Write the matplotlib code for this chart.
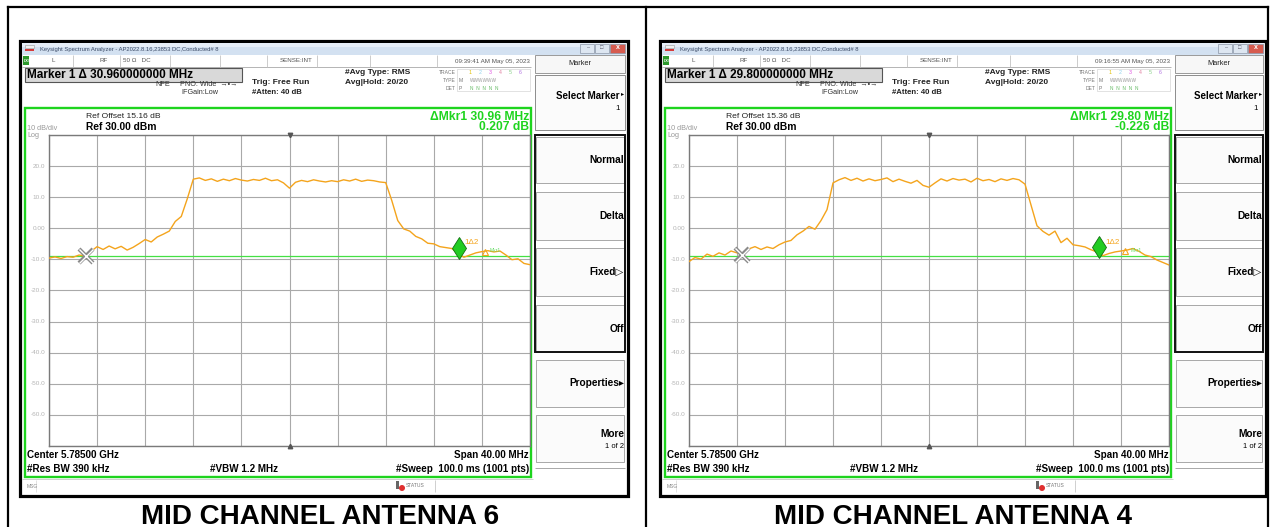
import numpy as np
import matplotlib
matplotlib.use("Agg")
import matplotlib.pyplot as plt
from matplotlib.patches import Rectangle, Circle
from matplotlib import transforms

plt.rcParams['font.family'] = ['Liberation Sans', 'DejaVu Sans']

# ---------------- measurement settings ----------------
center_ghz = 5.785
span_mhz = 40.0
ref_level_dbm = 30.0
db_per_div = 10.0
display_line_dbm = -8.8

# trace levels (dBm), sampled every 0.5 MHz across the 40 MHz span
ant6_levels = [
    -9.6, -9.2, -9.7, -9.1, -9.3, -8.6, -8.9, -7.4, -5.9, -6.8,
    -5.7, -6.6, -5.8, -7.0, -6.1, -4.9, -3.6, -4.4, -2.8, -1.9,
    -0.9, 2.2, 3.8, 9.5, 15.8, 16.2, 15.4, 15.9, 15.1, 15.8,
    15.3, 16.0, 15.5, 15.2, 15.7, 15.4, 16.1, 15.3, 15.6, 14.6,
    12.9, 14.8, 15.4, 15.0, 15.6, 15.2, 14.9, 15.3, 15.0, 15.6,
    15.2, 15.8, 15.1, 15.5, 15.3, 14.9, 14.7, 9.0, 2.5, -0.2,
    -0.9, -2.6, -3.4, -4.8, -5.0, -5.9, -6.2, -6.5, -8.0, -9.3,
    -8.6, -7.9, -7.5, -7.2, -7.6, -7.3, -8.6, -10.1, -9.8, -11.3,
    -11.7,
]
ant4_levels = [
    -10.7, -9.4, -9.9, -8.3, -9.0, -7.9, -8.6, -7.3, -7.9, -8.4,
    -6.6, -5.9, -6.8, -6.0, -6.5, -5.3, -4.4, -3.9, -2.1, -0.9,
    0.6, -0.3, 2.5, 6.0, 14.6, 15.6, 16.3, 15.4, 16.1, 15.2,
    15.9, 15.3, 15.7, 16.2, 15.0, 15.8, 15.1, 14.5, 15.4, 13.8,
    13.2, 14.6, 15.9, 15.2, 16.0, 15.5, 15.8, 14.9, 16.1, 15.3,
    15.7, 15.0, 15.9, 15.4, 16.0, 15.6, 14.2, 7.5, 0.8, -1.0,
    -2.2, -0.9, -4.6, -3.2, -5.3, -5.6, -6.0, -6.9, -7.6, -8.8,
    -8.1, -7.6, -7.3, -7.0, -6.5, -7.4, -8.6, -9.1, -10.2, -11.0,
    -11.8,
]

# marker 1 (offset MHz, dBm) and delta readout (MHz, dB)
ant6_marker1 = (-16.90, -9.00)
ant6_delta = (30.96, 0.207)
ant4_marker1 = (-15.60, -8.50)
ant4_delta = (29.80, -0.226)

ref_offsets_db = [15.16, 15.36]
timestamps = ["09:39:41 AM May 05, 2023", "09:16:55 AM May 05, 2023"]
captions = ["MID CHANNEL ANTENNA 6", "MID CHANNEL ANTENNA 4"]
ytick_values = [20, 10, 0, -10, -20, -30, -40, -50, -60]
ytick_labels = ["20.0", "10.0", "0.00", "-10.0", "-20.0", "-30.0", "-40.0", "-50.0", "-60.0"]
softkeys = ["Normal", "Delta", "Fixed\u25B7", "Off", "Properties\u25B8"]

# ---------------- figure ----------------
W, H, DPI = 1273, 527, 100
fig = plt.figure(figsize=(W / DPI, H / DPI), dpi=DPI)
fig.patch.set_facecolor('white')
bg = fig.add_axes([0, 0, 1, 1])
bg.set_xlim(0, W)
bg.set_ylim(H, 0)
bg.axis('off')

GREEN = '#1ed41e'
TRACE = '#f4a41c'


def txt(x, y, s, size, color='black', weight='normal', ha='left', va='center', **kw):
    bg.text(x, y, s, fontsize=size, color=color, fontweight=weight,
            ha=ha, va=va, zorder=5, **kw)


def rect(x, y, w, h, fc='none', ec='none', lw=0.8, z=2):
    bg.add_patch(Rectangle((x, y), w, h, facecolor=fc, edgecolor=ec, lw=lw, zorder=z))


def hline(y, x0, x1, color='#b8b8b8', lw=0.6, z=3):
    bg.plot([x0, x1], [y, y], color=color, lw=lw, zorder=z, solid_capstyle='butt')


def vline(x, y0, y1, color='#b8b8b8', lw=0.6, z=3):
    bg.plot([x, x], [y0, y1], color=color, lw=lw, zorder=z, solid_capstyle='butt')


def draw_window(dx, right, marker1, delta, ref_offset, stamp):
    L = 20 + dx
    R = right
    # window frame
    rect(L, 41, R - L, 455, fc='white', ec='black', lw=2.3, z=1)
    # title bar
    rect(L + 2, 43, R - L - 4, 12, fc='#d3e1f1', z=2)
    rect(L + 2, 43, R - L - 4, 4, fc='#e6eef8', z=2)
    rect(L + 5, 45, 9, 3, fc='#f2f2f2', ec='#999999', lw=0.4, z=3)
    rect(L + 5, 48.5, 9, 2.5, fc='#d63a3a', z=3)
    txt(L + 20, 49.5, "Keysight Spectrum Analyzer - AP2022.8.16,23853 DC,Conducted# 8",
        4.2, color='#3b4a66')
    for bx, bw, c in [(R - 48, 14, '#dde6f1'), (R - 33, 14, '#dde6f1'), (R - 18, 15, '#d65b4f')]:
        rect(bx, 43.5, bw, 9, fc=c, ec='#8a95a5', lw=0.5, z=3)
    txt(R - 41, 47.5, "\u2013", 4, color='#556')
    txt(R - 26, 47.5, "\u25A1", 4, color='#556', ha='center')
    txt(R - 10.5, 47.5, "x", 5, color='white', ha='center', weight='bold')

    # instrument status row
    rect(L + 3, 56, 6, 9, fc='#2e9a2e', z=3)
    txt(L + 4, 60.5, "LXI", 2.6, color='white', weight='bold')
    hline(67, L + 2, 531 + dx, color='#a8a8a8')
    for sx in [73, 120, 170, 220, 267, 317, 370, 437]:
        vline(sx + dx, 55, 67, color='#c4c4c4')
    txt(51 + dx, 61, "L", 4.5, color='#555555')
    txt(100 + dx, 61, "RF", 4.5, color='#555555')
    txt(123 + dx, 61, "50 \u03A9   DC", 4.5, color='#555555')
    txt(280 + dx, 61, "SENSE:INT", 4.5, color='#555555')
    txt(530 + dx, 61, stamp, 4.5, color='#555555', ha='right')

    # marker readout box and acquisition settings
    rect(25 + dx, 68, 217, 14, fc='#d9d9d9', ec='#555555', lw=0.8, z=3)
    txt(27 + dx, 75.5, "Marker 1 \u0394 %.9f MHz" % delta[0], 8.5, weight='bold')
    txt(155 + dx, 84.5, "NFE", 5.2, color='#333333')
    txt(180 + dx, 84.5, "PNO: Wide  \u2192\u2022\u2192", 5.2, color='#333333')
    txt(181 + dx, 92.5, "IFGain:Low", 5.2, color='#333333')
    txt(252 + dx, 83, "Trig: Free Run", 6.0, weight='bold', color='#222222')
    txt(252 + dx, 92.5, "#Atten: 40 dB", 5.6, weight='bold', color='#222222')
    txt(345 + dx, 72, "#Avg Type: RMS", 6.0, weight='bold', color='#222222')
    txt(345 + dx, 82, "Avg|Hold: 20/20", 6.0, weight='bold', color='#222222')
    txt(456 + dx, 73, "TRACE", 3.6, color='#777777', ha='right')
    txt(456 + dx, 80.5, "TYPE", 3.6, color='#777777', ha='right')
    txt(456 + dx, 88, "DET", 3.6, color='#777777', ha='right')
    rect(457 + dx, 69, 73, 22, fc='none', ec='#cccccc', lw=0.4, z=3)
    dig_cols = ['#e0c000', '#8fd3ee', '#e055e0', '#e07fa0', '#8ad08a', '#b070e0']
    for i, c in enumerate(dig_cols):
        txt(470 + dx + i * 10, 73, str(i + 1), 3.8, color=c, ha='center')
    txt(459 + dx, 80.5, "M", 3.6, color='#777777')
    txt(470 + dx, 80.5, "WWWWWW", 3.4, color='#999999')
    txt(459 + dx, 88, "P", 3.6, color='#777777')
    txt(470 + dx, 88, "N  N  N  N  N", 3.4, color='#66bb66')

    # green display frame
    rect(25 + dx, 108, 506, 369, fc='none', ec=GREEN, lw=1.7, z=4)
    txt(86 + dx, 117, "Ref Offset %.2f dB" % ref_offset, 6.1, color='#222222')
    txt(86 + dx, 127.5, "Ref 30.00 dBm", 7.4, weight='bold')
    txt(27 + dx, 128, "10 dB/div", 5.2, color='#999999')
    txt(27 + dx, 135.5, "Log", 5.2, color='#999999')
    txt(529 + dx, 117, "\u0394Mkr1 %.2f MHz" % delta[0], 8.7, color=GREEN, weight='bold', ha='right')
    txt(529 + dx, 127.5, "%.3f dB" % delta[1], 8.7, color=GREEN, weight='bold', ha='right')

    # sweep settings under the graticule
    txt(27 + dx, 454.5, "Center %.5f GHz" % center_ghz, 7.1, weight='bold')
    txt(529 + dx, 454.5, "Span %.2f MHz" % span_mhz, 7.1, weight='bold', ha='right')
    txt(27 + dx, 468.5, "#Res BW 390 kHz", 7.1, weight='bold')
    txt(210 + dx, 468.5, "#VBW 1.2 MHz", 7.1, weight='bold')
    txt(529 + dx, 468.5, "#Sweep  100.0 ms (1001 pts)", 7.1, weight='bold', ha='right')

    # message / status bar
    hline(479, L + 2, 533 + dx, color='#c8c8c8')
    txt(27 + dx, 486, "MSG", 3.6, color='#888888')
    vline(36 + dx, 480, 492, color='#dddddd')
    rect(396 + dx, 481, 3, 8, fc='#666666', z=3)
    bg.add_patch(Circle((402 + dx, 488), 3, facecolor='#e03030', edgecolor='none', zorder=4))
    txt(406 + dx, 485.5, "STATUS", 3.6, color='#777777')
    vline(435 + dx, 480, 492, color='#c8c8c8')

    # softkey panel
    px0, px1 = 535 + dx, R - 3
    pw = px1 - px0
    rect(px0, 55, pw, 18, fc='#f7f7f7', ec='#9a9a9a', lw=0.7, z=3)
    txt((px0 + px1) / 2, 63.5, "Marker", 5.3, color='#222222', ha='center')
    rect(px0, 75, pw, 55, fc='#fbfbfb', ec='#8c8c8c', lw=0.7, z=3)
    txt(px1 - 6, 96, "Select Marker", 7.0, weight='bold', ha='right')
    txt(px1 - 1, 94, "\u25B8", 4.5, ha='right')
    txt(px1 - 5, 109, "1", 5.6, ha='right')
    boxes = [(137, 183), (192, 240), (248, 296), (305, 352), (360, 407)]
    for (y0, y1), name in zip(boxes, softkeys):
        rect(px0 + 1, y0, pw - 2, y1 - y0, fc='#fbfbfb', ec='#9a9a9a', lw=0.6, z=3)
        txt(px1 - 1, (y0 + y1) / 2, name, 7.3, weight='bold', ha='right')
    rect(px0, 135, pw, 217, fc='none', ec='#111111', lw=1.4, z=4)
    rect(px0 + 1, 415, pw - 2, 47, fc='#fbfbfb', ec='#9a9a9a', lw=0.6, z=3)
    txt(px1 - 1, 434, "More", 7.3, weight='bold', ha='right')
    txt(px1 - 1, 446, "1 of 2", 5.4, ha='right')
    hline(468, px0, px1, color='#9a9a9a')


def draw_trace(x0, x1, levels, marker1, delta):
    y0, y1 = 135, 446
    ax = fig.add_axes([x0 / W, 1 - y1 / H, (x1 - x0) / W, (y1 - y0) / H])
    ax.set_facecolor('white')
    f = np.linspace(-span_mhz / 2, span_mhz / 2, len(levels))
    ax.set_xlim(-span_mhz / 2, span_mhz / 2)
    ax.set_ylim(ref_level_dbm - 10 * db_per_div, ref_level_dbm)
    ax.set_xticks(np.linspace(-span_mhz / 2, span_mhz / 2, 11))
    ax.set_yticks(np.arange(ref_level_dbm - 10 * db_per_div, ref_level_dbm + 1, db_per_div))
    ax.grid(True, color='#a9a9a9', lw=0.8)
    ax.tick_params(length=0, labelbottom=False, labelleft=False)
    for s in ax.spines.values():
        s.set_color('#7a7a7a')
        s.set_linewidth(1.0)

    lab_tr = transforms.offset_copy(ax.get_yaxis_transform(), fig=fig, x=-4, y=0, units='dots')
    for v, lab in zip(ytick_values, ytick_labels):
        ax.text(0, v, lab, transform=lab_tr, ha='right', va='center',
                fontsize=4.6, color='#b4b4b4', clip_on=False)

    ax.axhline(display_line_dbm, color='#44e044', lw=0.9, zorder=2)
    ax.plot(f, levels, color=TRACE, lw=1.0, zorder=3)

    # reference marker (X) and delta marker (diamond)
    m1f, m1l = marker1
    m2f, m2l = m1f + delta[0], m1l + delta[1]
    ax.plot(m1f, m1l, marker='x', ms=9.5, mew=3.0, color='#8a8a8a', zorder=4, ls='none')
    ax.plot(m1f, m1l, marker='x', ms=9.5, mew=1.0, color='white', zorder=5, ls='none')
    up = transforms.offset_copy(ax.transData, fig=fig, x=0, y=8, units='dots')
    ax.plot(m2f, m2l, marker='d', ms=11.5, mfc='#22cc22', mec='#0f6f0f', mew=0.6,
            transform=up, zorder=6, ls='none')
    lab = transforms.offset_copy(ax.transData, fig=fig, x=6, y=13, units='dots')
    ax.text(m2f, m2l, "1\u03942", transform=lab, fontsize=5.8, color=TRACE,
            ha='left', va='center', zorder=6)
    tri = transforms.offset_copy(ax.transData, fig=fig, x=26, y=4, units='dots')
    ax.plot(m2f, m2l, marker='^', ms=5, mfc='none', mec=TRACE, mew=0.8,
            transform=tri, zorder=6, ls='none')
    tl = transforms.offset_copy(ax.transData, fig=fig, x=31, y=5, units='dots')
    ax.text(m2f, m2l, "Mkr1", transform=tl, fontsize=3.6, color='#66dd66',
            ha='left', va='center', zorder=6)

    # center-frequency ticks on the graticule edges
    ax.plot(0, ref_level_dbm, marker='v', ms=3.2, color='#555555', clip_on=False, zorder=6)
    ax.plot(0, ref_level_dbm - 10 * db_per_div, marker='^', ms=3.2, color='#555555',
            clip_on=False, zorder=6)
    return ax


# outer table rules
bg.plot([8, 8], [7, H], color='black', lw=1.6, zorder=0)
bg.plot([645.5, 645.5], [7, H], color='black', lw=1.6, zorder=0)
bg.plot([1268, 1268], [7, H], color='black', lw=1.6, zorder=0)
bg.plot([8, 1268], [7, 7], color='black', lw=1.6, zorder=0)

draw_window(0, 628, ant6_marker1, ant6_delta, ref_offsets_db[0], timestamps[0])
draw_window(640, 1266, ant4_marker1, ant4_delta, ref_offsets_db[1], timestamps[1])
draw_trace(49, 530, ant6_levels, ant6_marker1, ant6_delta)
draw_trace(689, 1169, ant4_levels, ant4_marker1, ant4_delta)

txt(320, 523.5, captions[0], 20, weight='bold', ha='center', va='baseline')
txt(953, 523.5, captions[1], 20, weight='bold', ha='center', va='baseline')

fig.savefig("out.png", dpi=DPI, facecolor='white')
